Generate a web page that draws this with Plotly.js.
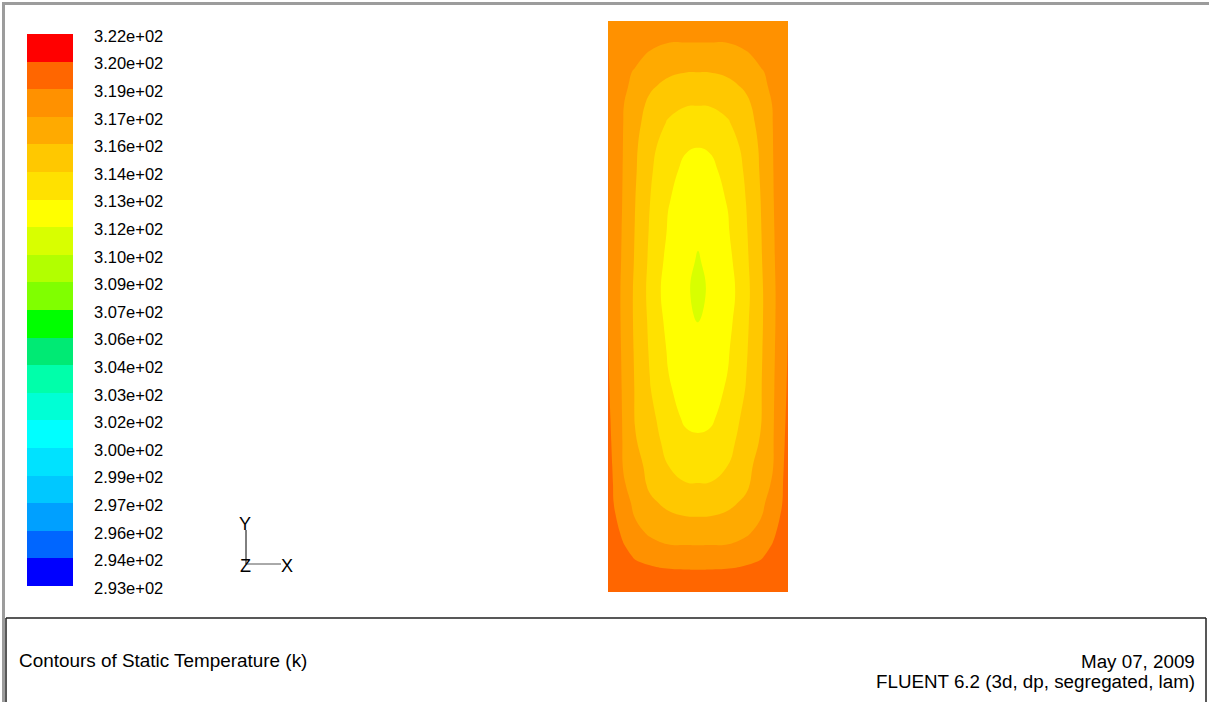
<!DOCTYPE html>
<html>
<head>
<meta charset="utf-8">
<script src="https://cdn.plot.ly/plotly-3.0.1.min.js"></script>
<style>
  html, body { margin: 0; padding: 0; background: #ffffff; }
  #chart { width: 1209px; height: 702px; }
</style>
</head>
<body>
<div id="chart"></div>
<script>
// Contour levels of static temperature (K) and the labels printed beside the legend
const levels = [293.00, 294.43, 295.86, 297.29, 298.72, 300.15, 301.58, 303.01, 304.44, 305.87,
                307.30, 308.73, 310.16, 311.59, 313.02, 314.45, 315.88, 317.31, 318.74, 320.17, 321.60];
const levelLabels = ['2.93e+02', '2.94e+02', '2.96e+02', '2.97e+02', '2.99e+02', '3.00e+02', '3.02e+02',
                     '3.03e+02', '3.04e+02', '3.06e+02', '3.07e+02', '3.09e+02', '3.10e+02', '3.12e+02',
                     '3.13e+02', '3.14e+02', '3.16e+02', '3.17e+02', '3.19e+02', '3.20e+02', '3.22e+02'];
// One colour per band, coldest first
const bandColors = ['#0000ff', '#0066ff', '#00a0ff', '#00c8ff', '#00e2ff', '#00ffff', '#00ffd5',
                    '#00ffaa', '#00ea74', '#00ff00', '#80ff00', '#b2ff00', '#d8ff00', '#ffff00',
                    '#ffe100', '#ffc800', '#ffaa00', '#ff9100', '#ff6600', '#ff0000'];

// Section grid (mm): x across the cavity, y from the bottom wall up
const xNodes = [0, 1, 2.5, 4.5, 7, 10, 13, 15, 17, 20, 23, 25.5, 27.5, 29, 30];
const yNodes = [0, 2, 4, 6, 8, 10, 12.5, 15, 18, 21, 25, 29, 34, 40, 45, 50, 55, 60, 65, 70,
                74, 78, 81, 84, 86.5, 89, 91.5, 93.5, 95];
// Static temperature (K) at the grid nodes, one row per yNodes entry
const temperature = [
  [320.00, 319.95, 319.85, 319.75, 319.70, 319.65, 319.60, 319.60, 319.60, 319.65, 319.70, 319.75, 319.85, 319.95, 320.00],
  [319.90, 319.79, 319.59, 319.39, 319.29, 319.20, 319.18, 319.17, 319.18, 319.20, 319.29, 319.39, 319.59, 319.79, 319.90],
  [319.80, 319.62, 319.33, 319.02, 318.88, 318.72, 318.69, 318.68, 318.69, 318.72, 318.88, 319.02, 319.33, 319.62, 319.80],
  [319.70, 319.45, 319.07, 318.64, 318.34, 318.05, 318.00, 317.99, 318.00, 318.05, 318.34, 318.64, 319.07, 319.45, 319.70],
  [319.60, 319.29, 318.80, 318.22, 317.74, 317.30, 317.26, 317.25, 317.26, 317.30, 317.74, 318.22, 318.80, 319.29, 319.60],
  [319.50, 319.13, 318.55, 317.80, 317.05, 316.80, 316.66, 316.64, 316.66, 316.80, 317.05, 317.80, 318.55, 319.13, 319.50],
  [319.40, 318.92, 318.22, 317.29, 316.71, 316.12, 315.92, 315.90, 315.92, 316.12, 316.71, 317.29, 318.22, 318.92, 319.40],
  [319.30, 318.72, 317.90, 317.00, 316.10, 315.58, 315.27, 315.24, 315.27, 315.58, 316.10, 317.00, 317.90, 318.72, 319.30],
  [319.20, 318.67, 317.52, 316.60, 315.65, 315.01, 314.50, 314.48, 314.50, 315.01, 315.65, 316.60, 317.52, 318.67, 319.20],
  [319.12, 318.61, 317.30, 316.30, 315.55, 314.47, 313.98, 313.91, 313.98, 314.47, 315.55, 316.30, 317.30, 318.61, 319.12],
  [319.05, 318.52, 317.25, 316.00, 315.23, 313.95, 313.32, 313.17, 313.32, 313.95, 315.23, 316.00, 317.25, 318.52, 319.05],
  [318.98, 318.44, 317.21, 315.83, 314.91, 313.55, 312.80, 312.77, 312.80, 313.55, 314.91, 315.83, 317.21, 318.44, 318.98],
  [318.90, 318.33, 317.16, 315.82, 314.51, 313.15, 312.55, 312.39, 312.55, 313.15, 314.51, 315.82, 317.16, 318.33, 318.90],
  [318.82, 318.20, 317.10, 315.74, 314.31, 312.91, 312.25, 311.93, 312.25, 312.91, 314.31, 315.74, 317.10, 318.20, 318.82],
  [318.77, 318.10, 317.05, 315.67, 314.18, 312.63, 311.98, 311.55, 311.98, 312.63, 314.18, 315.67, 317.05, 318.10, 318.77],
  [318.72, 318.07, 317.04, 315.66, 314.05, 312.35, 311.78, 311.24, 311.78, 312.35, 314.05, 315.66, 317.04, 318.07, 318.72],
  [318.66, 318.08, 317.13, 315.77, 314.18, 312.63, 311.98, 311.46, 311.98, 312.63, 314.18, 315.77, 317.13, 318.08, 318.66],
  [318.60, 318.10, 317.19, 315.85, 314.32, 312.92, 312.30, 311.83, 312.30, 312.92, 314.32, 315.85, 317.19, 318.10, 318.60],
  [318.55, 318.12, 317.25, 315.93, 314.47, 313.08, 312.60, 312.26, 312.60, 313.08, 314.47, 315.93, 317.25, 318.12, 318.55],
  [318.52, 318.14, 317.29, 316.05, 314.68, 313.30, 312.80, 312.69, 312.80, 313.30, 314.68, 316.05, 317.29, 318.14, 318.52],
  [318.50, 318.16, 317.32, 316.15, 314.80, 313.85, 313.10, 313.03, 313.10, 313.85, 314.80, 316.15, 317.32, 318.16, 318.50],
  [318.48, 318.18, 317.35, 316.30, 315.30, 314.33, 314.00, 313.86, 314.00, 314.33, 315.30, 316.30, 317.35, 318.18, 318.48],
  [318.47, 318.20, 317.40, 316.45, 315.60, 314.85, 314.50, 314.48, 314.50, 314.85, 315.60, 316.45, 317.40, 318.20, 318.47],
  [318.46, 318.22, 317.55, 317.00, 316.05, 315.54, 315.25, 315.24, 315.25, 315.54, 316.05, 317.00, 317.55, 318.22, 318.46],
  [318.45, 318.25, 317.60, 317.22, 316.61, 316.10, 315.91, 315.90, 315.91, 316.10, 316.61, 317.22, 317.60, 318.25, 318.45],
  [318.44, 318.28, 317.78, 317.57, 317.11, 316.72, 316.62, 316.62, 316.62, 316.72, 317.11, 317.57, 317.78, 318.28, 318.44],
  [318.43, 318.32, 318.00, 317.90, 317.61, 317.36, 317.35, 317.35, 317.35, 317.36, 317.61, 317.90, 318.00, 318.32, 318.43],
  [318.42, 318.36, 318.20, 318.16, 318.00, 317.86, 317.84, 317.83, 317.84, 317.86, 318.00, 318.16, 318.20, 318.36, 318.42],
  [318.40, 318.40, 318.35, 318.35, 318.30, 318.25, 318.20, 318.20, 318.20, 318.25, 318.30, 318.35, 318.35, 318.40, 318.40]
];

const W = 1209, H = 702;
const px = v => v / W;          // pixel -> paper x
const py = v => 1 - v / H;      // pixel -> paper y

// Stepped colour scale: one flat colour per contour band
const nBands = bandColors.length;
const colorscale = [];
bandColors.forEach((c, i) => { colorscale.push([i / nBands, c]); colorscale.push([(i + 1) / nBands, c]); });

const zLo = levels[0], zHi = levels[levels.length - 1];
const step = levels[1] - levels[0];
const FONT = 'Liberation Sans, Arial, Helvetica, sans-serif';

// Filled contours; the colour of each band follows the contour levels alone
const field = {
  type: 'contour',
  x: xNodes, y: yNodes, z: temperature,
  xaxis: 'x', yaxis: 'y',
  autocontour: false,
  contours: { start: zLo, end: zHi + step * 0.01, size: step, coloring: 'fill', showlines: false },
  line: { width: 0, smoothing: 1.3 },
  colorscale: colorscale,
  showscale: false, hoverinfo: 'skip'
};

// Colour legend: one cell per band, labels at the band edges
const bandMid = levels.slice(0, -1).map((l, i) => [(l + levels[i + 1]) / 2]);
const legendBar = {
  type: 'heatmap',
  x: [0, 1], y: levels, z: bandMid,
  xaxis: 'x2', yaxis: 'y2',
  colorscale: colorscale, zmin: zLo, zmax: zHi,
  showscale: false, hoverinfo: 'skip'
};

const lineShape = (x0, y0, x1, y1, color, w) => ({
  type: 'line', xref: 'paper', yref: 'paper',
  x0: px(x0), y0: py(y0), x1: px(x1), y1: py(y1),
  line: { color: color, width: w }
});
const rectShape = (x0, y0, x1, y1, fill) => ({
  type: 'rect', xref: 'paper', yref: 'paper',
  x0: px(x0), y0: py(y0), x1: px(x1), y1: py(y1),
  fillcolor: fill, line: { width: 0 }
});

const text = (s, x, y, anchor, size) => ({
  text: s, xref: 'paper', yref: 'paper', x: px(x), y: py(y),
  xanchor: anchor, yanchor: 'middle', showarrow: false,
  font: { family: FONT, size: size, color: '#000000' }
});

const layout = {
  width: W, height: H,
  margin: { l: 0, r: 0, t: 0, b: 0, pad: 0 },
  paper_bgcolor: '#ffffff', plot_bgcolor: '#ffffff',
  showlegend: false,
  xaxis: { domain: [px(608), px(788)], range: [0.04, 29.96], visible: false, fixedrange: true },
  yaxis: { domain: [py(592), py(21)], range: [0.06, 94.94], visible: false, fixedrange: true },
  xaxis2: { domain: [px(27), px(73)], range: [0, 1], anchor: 'y2', visible: false, fixedrange: true },
  yaxis2: {
    domain: [py(586), py(34)], range: [zLo, zHi], anchor: 'x2', side: 'right',
    tickmode: 'array', tickvals: levels, ticktext: levelLabels,
    ticks: '', showline: false, showgrid: false, zeroline: false,
    ticklabelstandoff: 20, ticklabelshift: 2,
    tickfont: { family: FONT, size: 16.5, color: '#000000' }, fixedrange: true
  },
  shapes: [
    rectShape(2, 2, 5, 702, '#9c9c9c'),
    rectShape(2, 2, 1209, 5, '#9c9c9c'),
    lineShape(6, 618, 1206, 618, '#202020', 1.5),
    lineShape(6, 618, 6, 702, '#202020', 1.5),
    lineShape(1206, 618, 1206, 702, '#202020', 1.5),
    // coordinate triad
    lineShape(246, 530, 246, 564, '#000000', 1),
    lineShape(246, 564, 281, 564, '#555555', 1)
  ],
  annotations: [
    text('Contours of Static Temperature (k)', 17, 660, 'left', 18.9),
    text('May 07, 2009', 1197, 661, 'right', 18.8),
    text('FLUENT 6.2 (3d, dp, segregated, lam)', 1197, 681, 'right', 18.8),
    text('Y', 245, 524, 'center', 18),
    text('Z', 245, 566, 'center', 18),
    text('X', 287, 566, 'center', 18)
  ]
};

Plotly.newPlot('chart', [field, legendBar], layout, { staticPlot: true, displayModeBar: false });
</script>
</body>
</html>
